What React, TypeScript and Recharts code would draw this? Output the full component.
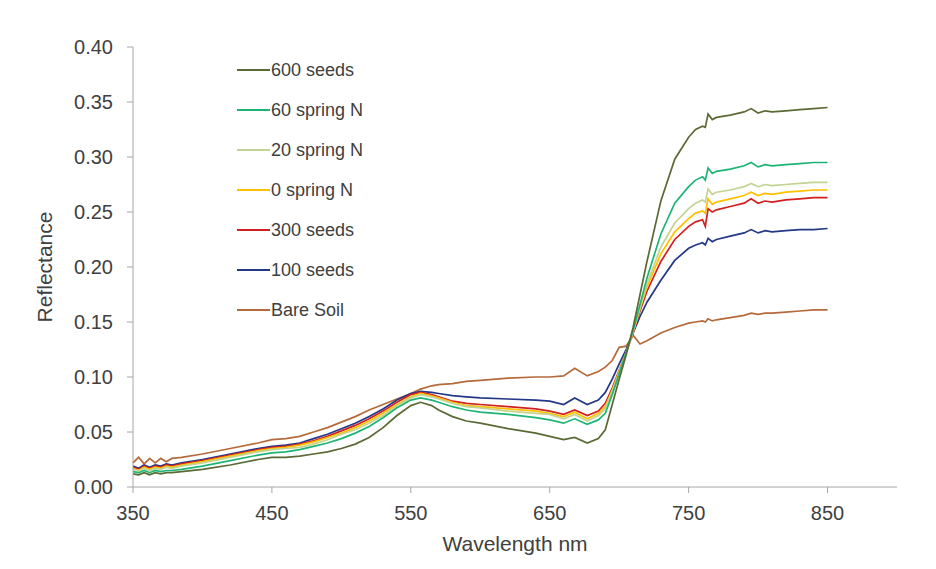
import { LineChart, Line, XAxis, YAxis, Legend } from "recharts";

// wavelength (nm) sample points
const wavelengths = [
  350, 354, 358, 362, 366, 370, 374, 378, 385, 400,
  420, 440, 450, 460, 470, 480, 490, 500, 510, 520,
  530, 540, 550, 557, 565, 570, 580, 590, 600, 620,
  640, 650, 660, 668, 677, 685, 690, 695, 700, 705,
  710, 715, 720, 730, 740, 750, 755, 760, 762, 764,
  767, 770, 780, 790, 795, 800, 805, 810, 820, 830,
  840, 850,
];

const seeds600 = [
  0.012, 0.011, 0.013, 0.011, 0.013, 0.012, 0.013, 0.013, 0.014, 0.016,
  0.020, 0.025, 0.027, 0.027, 0.028, 0.030, 0.032, 0.035, 0.039, 0.045,
  0.054, 0.065, 0.074, 0.077, 0.074, 0.070, 0.064, 0.060, 0.058, 0.053,
  0.049, 0.046, 0.043, 0.045, 0.040, 0.044, 0.052, 0.075, 0.098, 0.120,
  0.145, 0.175, 0.205, 0.260, 0.298, 0.318, 0.325, 0.328, 0.327, 0.339,
  0.334, 0.336, 0.338, 0.341, 0.344, 0.340, 0.342, 0.341, 0.342, 0.343,
  0.344, 0.345,
];

const spring60 = [
  0.014, 0.013, 0.015, 0.013, 0.015, 0.014, 0.015, 0.015, 0.016, 0.019,
  0.024, 0.029, 0.031, 0.032, 0.034, 0.037, 0.040, 0.044, 0.049, 0.055,
  0.063, 0.072, 0.079, 0.081, 0.079, 0.077, 0.073, 0.070, 0.068, 0.066,
  0.063, 0.061, 0.058, 0.062, 0.057, 0.061, 0.067, 0.084, 0.103, 0.122,
  0.142, 0.166, 0.190, 0.230, 0.258, 0.273, 0.279, 0.282, 0.279, 0.290,
  0.285, 0.287, 0.289, 0.292, 0.295, 0.291, 0.293, 0.292, 0.293, 0.294,
  0.295, 0.295,
];

const spring20 = [
  0.016, 0.015, 0.017, 0.015, 0.017, 0.016, 0.018, 0.017, 0.019, 0.022,
  0.027, 0.032, 0.034, 0.035, 0.036, 0.039, 0.043, 0.048, 0.052, 0.058,
  0.065, 0.074, 0.081, 0.084, 0.082, 0.080, 0.076, 0.073, 0.072, 0.069,
  0.067, 0.066, 0.062, 0.066, 0.060, 0.065, 0.071, 0.087, 0.104, 0.122,
  0.141, 0.163, 0.185, 0.218, 0.240, 0.253, 0.258, 0.261, 0.259, 0.271,
  0.266, 0.268, 0.270, 0.273, 0.276, 0.273, 0.275, 0.274, 0.275, 0.276,
  0.277, 0.277,
];

const spring0 = [
  0.017, 0.015, 0.018, 0.016, 0.018, 0.017, 0.019, 0.018, 0.020, 0.023,
  0.028, 0.033, 0.035, 0.036, 0.038, 0.041, 0.045, 0.049, 0.054, 0.060,
  0.067, 0.075, 0.082, 0.085, 0.083, 0.081, 0.077, 0.074, 0.073, 0.071,
  0.069, 0.067, 0.064, 0.068, 0.062, 0.067, 0.073, 0.088, 0.105, 0.122,
  0.141, 0.162, 0.182, 0.212, 0.232, 0.244, 0.249, 0.251, 0.249, 0.262,
  0.257, 0.259, 0.262, 0.265, 0.268, 0.265, 0.267, 0.266, 0.268, 0.269,
  0.270, 0.270,
];

const seeds300 = [
  0.018, 0.016, 0.019, 0.017, 0.019, 0.018, 0.020, 0.019, 0.021, 0.024,
  0.029, 0.034, 0.036, 0.037, 0.039, 0.042, 0.046, 0.051, 0.056, 0.062,
  0.069, 0.077, 0.084, 0.086, 0.084, 0.082, 0.078, 0.076, 0.075, 0.073,
  0.071, 0.069, 0.066, 0.070, 0.065, 0.069, 0.076, 0.090, 0.106, 0.122,
  0.140, 0.160, 0.178, 0.205, 0.225, 0.237, 0.241, 0.243, 0.237, 0.253,
  0.250, 0.252, 0.255, 0.258, 0.262, 0.258, 0.260, 0.259, 0.261, 0.262,
  0.263, 0.263,
];

const seeds100 = [
  0.019, 0.017, 0.020, 0.018, 0.020, 0.019, 0.021, 0.020, 0.022, 0.025,
  0.030, 0.035, 0.037, 0.038, 0.040, 0.044, 0.048, 0.053, 0.058, 0.064,
  0.071, 0.079, 0.085, 0.087, 0.086, 0.085, 0.083, 0.082, 0.081, 0.080,
  0.079, 0.078, 0.075, 0.081, 0.075, 0.079, 0.086, 0.098, 0.112, 0.125,
  0.140, 0.155, 0.168, 0.188, 0.206, 0.217, 0.220, 0.222, 0.220, 0.226,
  0.223, 0.225, 0.228, 0.231, 0.234, 0.231, 0.233, 0.232, 0.233, 0.234,
  0.234, 0.235,
];

const bareSoil = [
  0.022, 0.027, 0.021, 0.026, 0.022, 0.026, 0.023, 0.026, 0.027, 0.030,
  0.035, 0.040, 0.043, 0.044, 0.046, 0.050, 0.054, 0.059, 0.064, 0.070,
  0.075, 0.080, 0.085, 0.089, 0.092, 0.093, 0.094, 0.096, 0.097, 0.099,
  0.100, 0.100, 0.101, 0.108, 0.101, 0.105, 0.109, 0.115, 0.127, 0.128,
  0.138, 0.130, 0.133, 0.140, 0.145, 0.149, 0.150, 0.151, 0.150, 0.153,
  0.151, 0.152, 0.154, 0.156, 0.158, 0.157, 0.158, 0.158, 0.159, 0.160,
  0.161, 0.161,
];

const xTicks = [350, 450, 550, 650, 750, 850];
const yTicks = [0, 0.05, 0.1, 0.15, 0.2, 0.25, 0.3, 0.35, 0.4];

// legend order, top to bottom
const series = [
  { key: "s600", name: "600 seeds", color: "#5b6a34", values: seeds600 },
  { key: "n60", name: "60 spring N", color: "#1db474", values: spring60 },
  { key: "n20", name: "20 spring N", color: "#c2d392", values: spring20 },
  { key: "n0", name: "0 spring N", color: "#ffc000", values: spring0 },
  { key: "s300", name: "300 seeds", color: "#d21f1f", values: seeds300 },
  { key: "s100", name: "100 seeds", color: "#233886", values: seeds100 },
  { key: "soil", name: "Bare Soil", color: "#b56a3b", values: bareSoil },
];

const data = wavelengths.map((w, i) => {
  const row: Record<string, number> = { wl: w };
  series.forEach((s) => (row[s.key] = s.values[i]));
  return row;
});

const FONT = '"Liberation Sans", Arial, sans-serif';
const TEXT = "#404040";
const AXIS = "#a6a6a6";

function LegendBox() {
  return (
    <div style={{ fontFamily: FONT, fontSize: 18, color: TEXT }}>
      {series.map((s) => (
        <div key={s.key} style={{ display: "flex", alignItems: "center", height: 40 }}>
          <svg width={33} height={4} style={{ marginRight: 1 }}>
            <line x1={0} y1={2} x2={33} y2={2} stroke={s.color} strokeWidth={2} />
          </svg>
          <span>{s.name}</span>
        </div>
      ))}
    </div>
  );
}

export default function App() {
  return (
    <div style={{ position: "absolute", left: 0, top: 0, width: 936, height: 569, background: "#fff" }}>
      <LineChart
        width={936}
        height={569}
        data={data}
        margin={{ top: 47, right: 39, bottom: 12, left: 33 }}
      >
        <XAxis
          dataKey="wl"
          type="number"
          domain={[350, 900]}
          ticks={xTicks}
          stroke={AXIS}
          tickSize={6}
          tickMargin={13}
          height={70}
          tick={{ fontSize: 20, fill: TEXT, fontFamily: FONT }}
          label={{
            value: "Wavelength nm",
            position: "insideBottom",
            offset: 6,
            style: { fontSize: 21, fill: TEXT, fontFamily: FONT },
          }}
        />
        <YAxis
          type="number"
          domain={[0, 0.4]}
          ticks={yTicks}
          stroke={AXIS}
          tickSize={6}
          tickMargin={14}
          width={100}
          tickFormatter={(v) => v.toFixed(2)}
          tick={{ fontSize: 20, fill: TEXT, fontFamily: FONT }}
          label={{
            value: "Reflectance",
            angle: -90,
            position: "insideLeft",
            offset: 12,
            style: { fontSize: 21, fill: TEXT, fontFamily: FONT, textAnchor: "middle" },
          }}
        />
        <Legend
          layout="vertical"
          align="center"
          verticalAlign="middle"
          wrapperStyle={{ left: 237, top: 50, width: 160 }}
          content={() => <LegendBox />}
        />
        {series
          .slice()
          .reverse()
          .map((s) => (
            <Line
              key={s.key}
              dataKey={s.key}
              name={s.name}
              stroke={s.color}
              strokeWidth={1.7}
              dot={false}
              type="linear"
              isAnimationActive={false}
            />
          ))}
      </LineChart>
    </div>
  );
}
